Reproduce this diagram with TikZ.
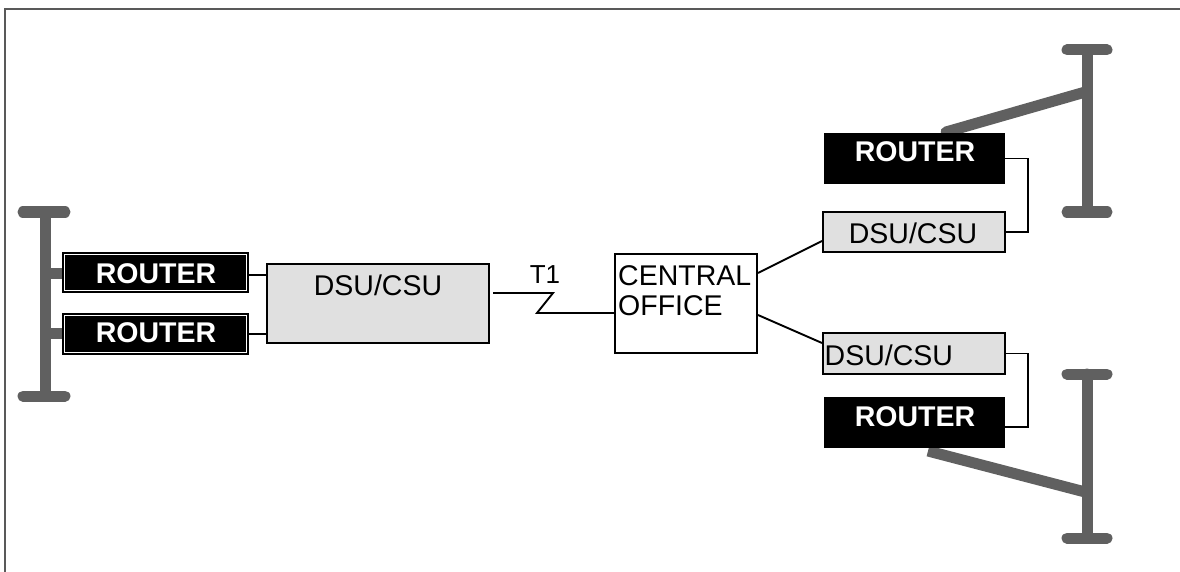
\documentclass[tikz,border=0pt]{standalone}
\usepackage{fontspec}
\setmainfont{Liberation Sans}
\usetikzlibrary{calc}
\definecolor{busgray}{HTML}{606060}
\definecolor{framegray}{HTML}{595959}
\definecolor{boxgray}{HTML}{E0E0E0}
\tikzset{
  lbl/.style={font=\fontsize{28.5}{30}\selectfont, inner sep=0pt},
  rtrtext/.style={lbl, font=\fontsize{28.5}{30}\selectfont\bfseries, text=white},
  rtr/.style={draw=black, fill=black, line width=1.5pt, inner sep=0pt},
  dsubox/.style={draw=black, fill=boxgray, line width=2pt, inner sep=0pt},
  cobox/.style={draw=black, fill=white, line width=2pt, inner sep=0pt},
  wire/.style={draw=black, line width=1.9pt},
  bus/.style={draw=busgray, line width=11pt, line cap=round},
  stub/.style={draw=busgray, line width=11pt},
}
\begin{document}
\begin{tikzpicture}[x=1pt, y=-1pt]
\useasboundingbox (0,0) rectangle (1180,572);
\draw[framegray, line width=2pt] (1180,9.5) -- (4.5,9.5) -- (4.5,572);

% left segment
\draw[bus] (45,212) -- (45,396);
\draw[bus] (23,212) -- (65,212);
\draw[bus] (23,396) -- (65,396);

% right upper segment
\draw[bus] (1087,50) -- (1087,212);
\draw[bus] (1067,50) -- (1107,50);
\draw[bus] (1067,212) -- (1107,212);
\draw[bus] (1087,91.5) -- (946,132);

% right lower segment
\draw[bus] (1087,374) -- (1087,538);
\draw[bus] (1067,374) -- (1107,374);
\draw[bus] (1067,538) -- (1107,538);
\draw[bus, line cap=butt] (1087,492.5) -- (928,451);

% left routers
\node[rtr, minimum width=185pt, minimum height=39pt] (lr1) at (155.5,272.5) {};
\node[rtr, minimum width=185pt, minimum height=40pt] (lr2) at (155.5,334) {};
\draw[white, line width=0.9pt] ($(lr1.north west)+(2.5,2.5)$) rectangle ($(lr1.south east)+(-2.5,-2.5)$);
\draw[white, line width=0.9pt] ($(lr2.north west)+(2.5,2.5)$) rectangle ($(lr2.south east)+(-2.5,-2.5)$);
\node[rtrtext, anchor=base] at (156,283) {ROUTER};
\node[rtrtext, anchor=base] at (156,342) {ROUTER};
\draw[stub] (45,273) -- (lr1.west |- 0,273);
\draw[stub] (45,333) -- (lr2.west |- 0,333);

% left DSU/CSU
\node[dsubox, minimum width=222pt, minimum height=79pt] (ldsu) at (378,303.5) {};
\node[lbl, anchor=base] at (378,295) {DSU/CSU};
\draw[wire] (lr1.east |- 0,275) -- (ldsu.west |- 0,275);
\draw[wire] (lr2.east |- 0,334) -- (ldsu.west |- 0,334);

% central office
\node[cobox, minimum width=142pt, minimum height=99pt] (co) at (686,303.5) {};
\node[lbl, anchor=base west] at (618,285) {CENTRAL};
\node[lbl, anchor=base west] at (618,315) {OFFICE};

% T1 line
\coordinate (t1a) at (553,293);
\coordinate (t1b) at (537,313);
\draw[wire] ($(ldsu.east |- t1a)+(3,0)$) -- (t1a) -- (t1b) -- (co.west |- t1b);
\node[lbl, font=\fontsize{26}{28}\selectfont, anchor=base] at (545,283) {T1};

% right upper site
\node[rtr, minimum width=179pt, minimum height=49pt] (ur) at (914.5,158.5) {};
\node[rtrtext, anchor=base] at (915,162) {ROUTER};
\node[dsubox, minimum width=182pt, minimum height=40pt] (ud) at (914,232) {};
\node[lbl, anchor=base] at (913,243) {DSU/CSU};
\draw[wire] (ur.east) -- ++(23,0) |- (ud.east);
\draw[wire] ($(co.east)+(0,-30.5)$) -- ($(ud.west)+(0,9)$);

% right lower site
\node[dsubox, minimum width=182pt, minimum height=41pt] (ld) at (914,353.5) {};
\node[lbl, anchor=base west] at (824.5,365) {DSU/CSU};
\node[rtr, minimum width=179pt, minimum height=49pt] (lrr) at (914.5,422.5) {};
\node[rtrtext, anchor=base] at (915,426) {ROUTER};
\coordinate (lrc) at ($(lrr.east)+(0,4.5)$);
\draw[wire] (ld.east) -- ++(22,0) |- (lrc);
\draw[wire] ($(co.east)+(0,11.5)$) -- ($(ld.west)+(0,-10.5)$);
\end{tikzpicture}
\end{document}
